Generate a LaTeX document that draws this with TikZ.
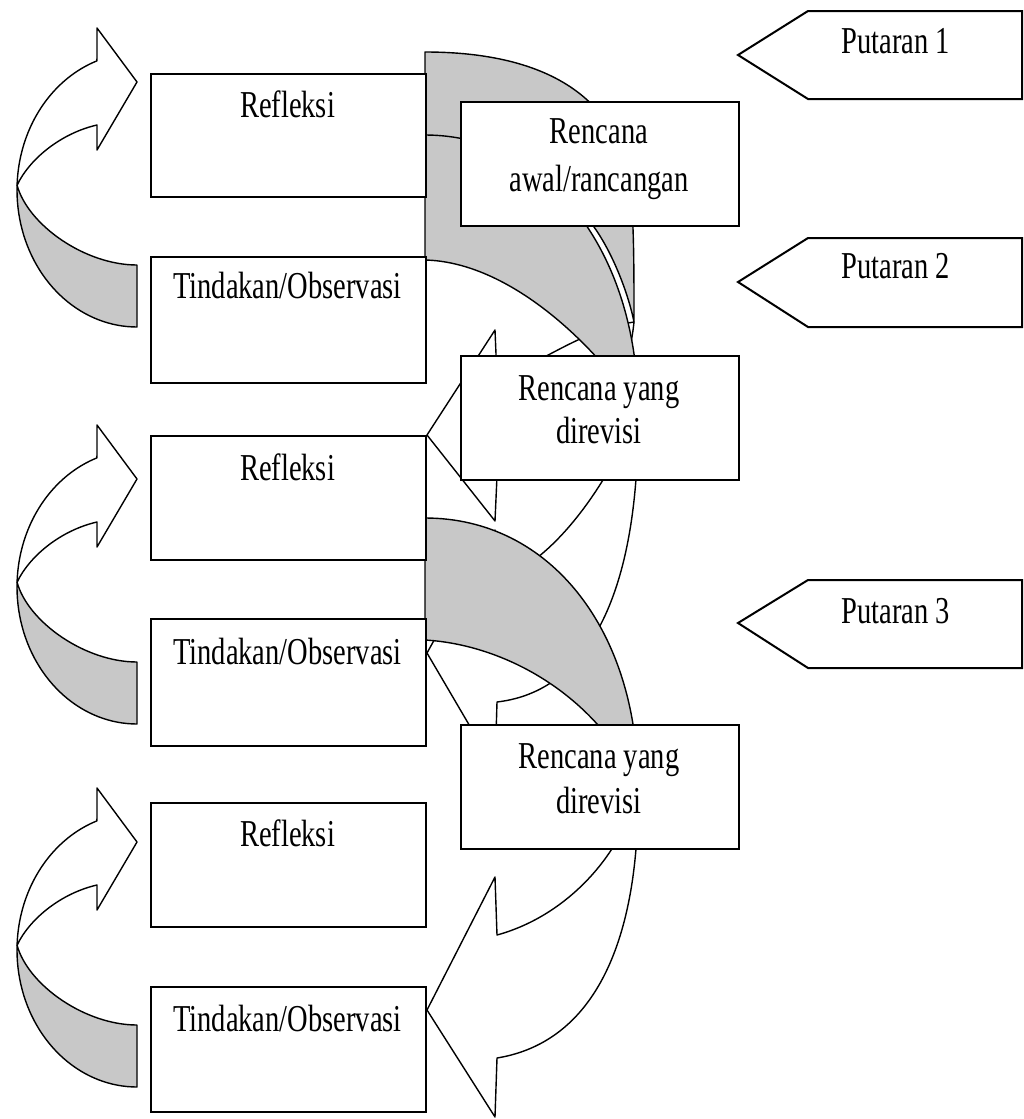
\documentclass[tikz,border=0pt]{standalone}
\usepackage{fontspec}
\newfontfamily\lblfont{Liberation Serif}[FakeStretch=0.75]
\definecolor{bandgray}{RGB}{200,200,200}
\newcommand\leftloop[1]{%
\begin{scope}[shift={(0,#1)}]
\filldraw[front] plot[domain=182:250.5, samples=40, variable=\t] ({137+120*cos(\t)},{190+137*sin(\t)}) -- (97,28) -- (137,82) -- (97,150) -- (97,125) .. controls (62,133) and (30,158) .. (17.1,185.2) -- cycle;
\filldraw[back] plot[domain=90:182, samples=40, variable=\t] ({137+120*cos(\t)},{190+137*sin(\t)}) .. controls (28,225) and (85,265) .. (137,265) -- cycle;
\end{scope}}
\begin{document}
\begin{tikzpicture}[x=1pt,y=-1pt,
  box/.style={draw=black, line width=2pt, fill=white, inner sep=0pt, anchor=north west},
  lbl/.style={font=\lblfont\fontsize{38}{44}\selectfont, anchor=base, inner sep=0pt},
  band/.style={draw=black, line width=1.4pt, line join=round},
  front/.style={band, fill=white},
  back/.style={band, fill=bandgray},
  tag/.style={draw=black, line width=2pt, fill=white, line join=miter}]
\useasboundingbox (0,0) rectangle (1024,1119);
\fill[white] (0,0) rectangle (1024,1119);

% left curved arrows
\leftloop{0}
\leftloop{397}
\leftloop{760}

% big arrow B (bottom layer)
\filldraw[front] (634,322) .. controls (626,400) and (580,470) .. (497,476) -- (495,521) -- (427,435) -- (495,330) -- (497,378) .. controls (540,365) and (580,330) .. (634,322) -- cycle;
\filldraw[back] (425,52) .. controls (520,52) and (600,80) .. (625,160) .. controls (634,190) and (634,250) .. (634,322) .. controls (628,292) and (612,252) .. (594,227) .. controls (560,190) and (500,178) .. (425,175) -- cycle;

% big arrow A
\filldraw[front] (638,410) .. controls (640,570) and (600,690) .. (497,702) -- (495,769) -- (427,653) -- (495,530) -- (497,580) .. controls (560,560) and (615,470) .. (638,410) -- cycle;
\filldraw[back] (425,135) .. controls (550,135) and (638,255) .. (638,410) .. controls (595,345) and (510,262) .. (425,260) -- cycle;

% big arrow C
\filldraw[front] (638,787) .. controls (640,940) and (595,1042) .. (497,1058) -- (495,1117) -- (427,1010) -- (495,877) -- (497,935) .. controls (570,915) and (625,850) .. (638,787) -- cycle;
\filldraw[back] (425,518) .. controls (550,518) and (638,630) .. (638,787) .. controls (600,700) and (510,645) .. (425,640) -- cycle;

% left boxes
\node[box, minimum width=275pt, minimum height=123pt] (ref1) at (150,73) {};
\node[box, minimum width=275pt, minimum height=126pt] (tin1) at (150,256) {};
\node[box, minimum width=275pt, minimum height=124pt] (ref2) at (150,435) {};
\node[box, minimum width=275pt, minimum height=127pt] (tin2) at (150,618) {};
\node[box, minimum width=275pt, minimum height=124pt] (ref3) at (150,802) {};
\node[box, minimum width=275pt, minimum height=125pt] (tin3) at (150,986) {};

% right boxes
\node[box, minimum width=278pt, minimum height=124pt] (ren1) at (460,101) {};
\node[box, minimum width=278pt, minimum height=124pt] (ren2) at (460,355) {};
\node[box, minimum width=278pt, minimum height=124pt] (ren3) at (460,724) {};

% labels
\node[lbl] (ref1t) at (287.5,117) {Refleksi};
\node[lbl] (tin1t) at (287.5,298) {Tindakan/Observasi};
\node[lbl] (ref2t) at (287.5,480) {Refleksi};
\node[lbl] (tin2t) at (287.5,664) {Tindakan/Observasi};
\node[lbl] (ref3t) at (287.5,846) {Refleksi};
\node[lbl] (tin3t) at (287.5,1031) {Tindakan/Observasi};
\node[lbl] (ren1a) at (599,143) {Rencana};
\node[lbl] (ren1b) at (599,191) {awal/rancangan};
\node[lbl] (ren2a) at (599,400) {Rencana yang};
\node[lbl] (ren2b) at (599,443) {direvisi};
\node[lbl] (ren3a) at (599,768) {Rencana yang};
\node[lbl] (ren3b) at (599,813) {direvisi};

% Putaran tags
\filldraw[tag] (738,55) -- (808,11) -- (1022,11) -- (1022,99) -- (808,99) -- cycle;
\filldraw[tag] (738,282) -- (808,238) -- (1022,238) -- (1022,327) -- (808,327) -- cycle;
\filldraw[tag] (738,623) -- (808,580) -- (1022,580) -- (1022,668) -- (808,668) -- cycle;
\node[lbl] (put1) at (896,53) {Putaran 1};
\node[lbl] (put2) at (896,278) {Putaran 2};
\node[lbl] (put3) at (896,623) {Putaran 3};
\end{tikzpicture}
\end{document}
